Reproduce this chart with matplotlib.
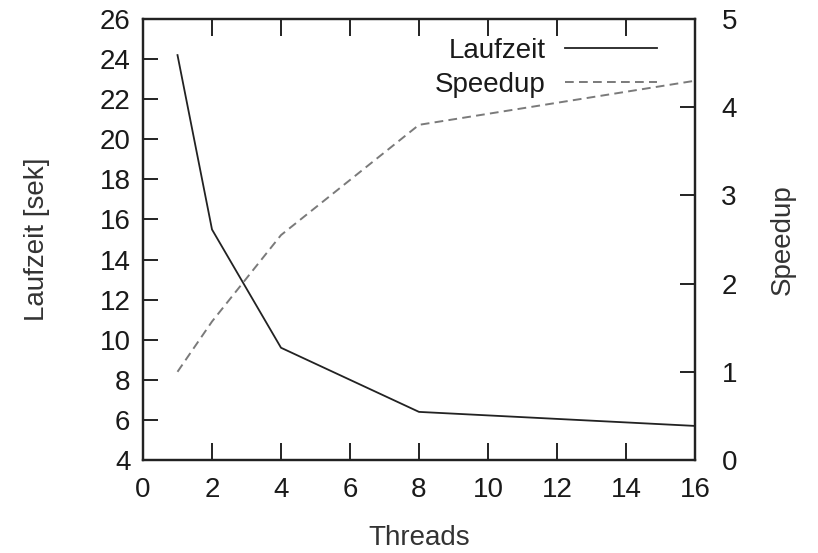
import matplotlib
matplotlib.use("Agg")
import matplotlib.pyplot as plt

threads = [1, 2, 4, 8, 16]
laufzeit = [24.2, 15.5, 9.6, 6.4, 5.7]
speedup = [1.0, 1.57, 2.55, 3.80, 4.30]
xticks = list(range(0, 17, 2))
yticks = list(range(4, 27, 2))
y2ticks = [0, 1, 2, 3, 4, 5]

plt.rcParams['font.family'] = ['Liberation Sans', 'DejaVu Sans']
fig = plt.figure(figsize=(8.18, 5.53), dpi=100)
ax = fig.add_axes([143/818, 1-460/553, (695-143)/818, (460-19)/553])
ax2 = ax.twinx()

l1, = ax.plot(threads, laufzeit, color='#222222', lw=1.3, label='Laufzeit')
l2, = ax2.plot(threads, speedup, color='#7a7a7a', lw=1.4, ls=(0, (4.5, 2.7)), label='Speedup')

ax.set_xlim(0, 16)
ax.set_ylim(4, 26)
ax2.set_ylim(0, 5)
ax.set_xticks(xticks)
ax.set_yticks(yticks)
ax2.set_yticks(y2ticks)

fs = 20
tc = '#1a1a1a'
ax.tick_params(axis='x', direction='in', length=12, width=1.4, top=True, labelsize=fs, pad=12, color='#222222', labelcolor=tc)
ax.tick_params(axis='y', direction='in', length=11, width=1.4, right=False, labelsize=fs, pad=9, color='#222222', labelcolor=tc)
ax2.tick_params(axis='y', direction='in', length=11, width=1.4, labelsize=fs, pad=19, color='#222222', labelcolor=tc)
for a in (ax, ax2):
    for s in a.spines.values():
        s.set_linewidth(1.6)
        s.set_color('#222222')

ax.set_xlabel('Threads', fontsize=fs, labelpad=16, color='#333333')
ax.set_ylabel('Laufzeit [sek]', fontsize=fs, labelpad=36, color='#333333')
ax2.set_ylabel('Speedup', fontsize=fs, labelpad=24, color='#333333')

leg = ax.legend(handles=[l1, l2], loc='upper right', frameon=False, markerfirst=False,
                fontsize=fs, handlelength=3.3, handletextpad=0.7, labelspacing=0.3,
                borderaxespad=0, borderpad=0, bbox_to_anchor=(0.931, 0.958))
for t in leg.get_texts():
    t.set_color(tc)

fig.savefig('out.png', dpi=100)
